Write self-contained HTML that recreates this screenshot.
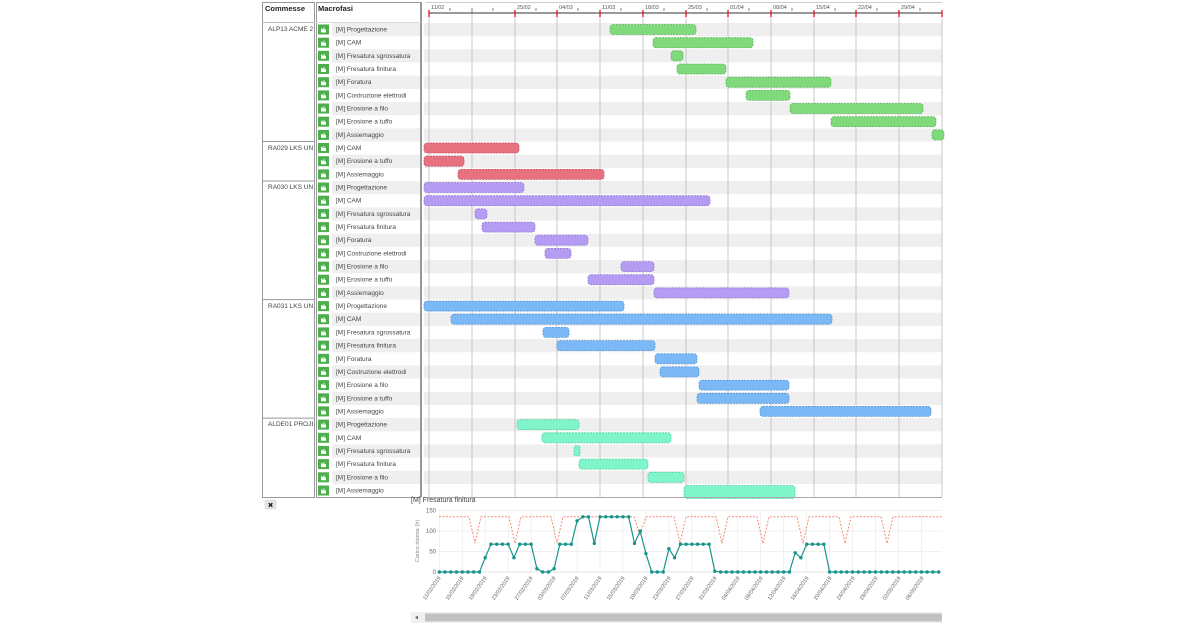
<!DOCTYPE html>
<html><head><meta charset="utf-8"><style>
html,body{margin:0;padding:0;background:#fff;}
svg{display:block;font-family:"Liberation Sans",sans-serif;}
.lb{font-size:6.5px;fill:#444;}
.bar{stroke-dasharray:2 1;stroke-width:0.8;}
</style></head><body>
<svg width="1200" height="624" viewBox="0 0 1200 624">
<defs>
<clipPath id="cc"><rect x="263" y="0" width="50" height="500"/></clipPath>
<marker id="dot" markerWidth="4" markerHeight="4" refX="2" refY="2" markerUnits="userSpaceOnUse"><circle cx="2" cy="2" r="1.7" fill="#17948a"/></marker>
<g id="ic"><rect x="318" y="1.5" width="11" height="10" fill="#4cae4c"/><path d="M321 9.5h5v-3h-1.5v-2h-1v2h-1v-1h-1.5z" fill="#fff"/></g>
</defs>

<!-- column boxes -->
<rect x="262.5" y="2.5" width="52" height="495" fill="#fff" stroke="#999"/>
<rect x="316.5" y="2.5" width="104" height="495" fill="#fff" stroke="#999"/>
<line x1="262" y1="22.5" x2="315" y2="22.5" stroke="#bbb"/>
<line x1="316" y1="22.5" x2="421" y2="22.5" stroke="#ddd"/>
<text x="265" y="11" font-size="7.5" font-weight="bold" fill="#222">Commesse</text>
<text x="318" y="11" font-size="7.5" font-weight="bold" fill="#222">Macrofasi</text>
<line x1="421.5" y1="2" x2="421.5" y2="497" stroke="#999"/>

<!-- stripes -->
<g fill="#efefef">
<rect x="332" y="23" width="88" height="13.2"/><rect x="424" y="23" width="518" height="13.2"/>
<rect x="332" y="49.3" width="88" height="13.2"/><rect x="424" y="49.3" width="518" height="13.2"/>
<rect x="332" y="75.7" width="88" height="13.2"/><rect x="424" y="75.7" width="518" height="13.2"/>
<rect x="332" y="102" width="88" height="13.2"/><rect x="424" y="102" width="518" height="13.2"/>
<rect x="332" y="128.4" width="88" height="13.2"/><rect x="424" y="128.4" width="518" height="13.2"/>
<rect x="332" y="154.7" width="88" height="13.2"/><rect x="424" y="154.7" width="518" height="13.2"/>
<rect x="332" y="181" width="88" height="13.2"/><rect x="424" y="181" width="518" height="13.2"/>
<rect x="332" y="207.4" width="88" height="13.2"/><rect x="424" y="207.4" width="518" height="13.2"/>
<rect x="332" y="233.7" width="88" height="13.2"/><rect x="424" y="233.7" width="518" height="13.2"/>
<rect x="332" y="260.1" width="88" height="13.2"/><rect x="424" y="260.1" width="518" height="13.2"/>
<rect x="332" y="286.4" width="88" height="13.2"/><rect x="424" y="286.4" width="518" height="13.2"/>
<rect x="332" y="312.7" width="88" height="13.2"/><rect x="424" y="312.7" width="518" height="13.2"/>
<rect x="332" y="339.1" width="88" height="13.2"/><rect x="424" y="339.1" width="518" height="13.2"/>
<rect x="332" y="365.4" width="88" height="13.2"/><rect x="424" y="365.4" width="518" height="13.2"/>
<rect x="332" y="391.8" width="88" height="13.2"/><rect x="424" y="391.8" width="518" height="13.2"/>
<rect x="332" y="418.1" width="88" height="13.2"/><rect x="424" y="418.1" width="518" height="13.2"/>
<rect x="332" y="444.4" width="88" height="13.2"/><rect x="424" y="444.4" width="518" height="13.2"/>
<rect x="332" y="470.8" width="88" height="13.2"/><rect x="424" y="470.8" width="518" height="13.2"/>
</g>

<!-- group separators -->
<g stroke="#999">
<line x1="262" y1="141.5" x2="315" y2="141.5"/>
<line x1="262" y1="181" x2="315" y2="181"/>
<line x1="262" y1="299.6" x2="315" y2="299.6"/>
<line x1="262" y1="418.1" x2="315" y2="418.1"/>
</g>
<g clip-path="url(#cc)" font-size="6.5" fill="#444">
<text x="268" y="31">ALP13 ACME 2019</text>
<text x="268" y="150">RA029 LKS UNT</text>
<text x="268" y="189">RA030 LKS UNT</text>
<text x="268" y="308">RA031 LKS UNT</text>
<text x="268" y="426">ALDE01 PROJECT</text>
</g>

<!-- week grid -->
<g stroke="#bbb" stroke-width="0.8">
<line x1="429" y1="13" x2="429" y2="497"/><line x1="472" y1="13" x2="472" y2="497"/>
<line x1="515" y1="13" x2="515" y2="497"/><line x1="557" y1="13" x2="557" y2="497"/>
<line x1="600" y1="13" x2="600" y2="497"/><line x1="643" y1="13" x2="643" y2="497"/>
<line x1="686" y1="13" x2="686" y2="497"/><line x1="728" y1="13" x2="728" y2="497"/>
<line x1="771" y1="13" x2="771" y2="497"/><line x1="814" y1="13" x2="814" y2="497"/>
<line x1="856" y1="13" x2="856" y2="497"/><line x1="899" y1="13" x2="899" y2="497"/>
<line x1="942" y1="13" x2="942" y2="497"/>
</g>
<!-- header axis -->
<line x1="426" y1="2.5" x2="942" y2="2.5" stroke="#ccc"/>
<line x1="429" y1="13" x2="942" y2="13" stroke="#333" stroke-width="1"/>
<g stroke="#333" stroke-width="0.6">
<line x1="450" y1="8" x2="450" y2="11"/><line x1="472" y1="8" x2="472" y2="13"/><line x1="493" y1="8" x2="493" y2="11"/>
<line x1="536" y1="8" x2="536" y2="11"/><line x1="578" y1="8" x2="578" y2="11"/><line x1="621" y1="8" x2="621" y2="11"/>
<line x1="664" y1="8" x2="664" y2="11"/><line x1="707" y1="8" x2="707" y2="11"/><line x1="749" y1="8" x2="749" y2="11"/>
<line x1="792" y1="8" x2="792" y2="11"/><line x1="835" y1="8" x2="835" y2="11"/><line x1="877" y1="8" x2="877" y2="11"/><line x1="920" y1="8" x2="920" y2="11"/>
</g>
<g stroke="#e00" stroke-width="1.2">
<line x1="429" y1="10" x2="429" y2="17"/><line x1="515" y1="10" x2="515" y2="17"/><line x1="557" y1="10" x2="557" y2="17"/>
<line x1="600" y1="10" x2="600" y2="17"/><line x1="643" y1="10" x2="643" y2="17"/><line x1="686" y1="10" x2="686" y2="17"/>
<line x1="728" y1="10" x2="728" y2="17"/><line x1="771" y1="10" x2="771" y2="17"/><line x1="814" y1="10" x2="814" y2="17"/>
<line x1="856" y1="10" x2="856" y2="17"/><line x1="899" y1="10" x2="899" y2="17"/><line x1="942" y1="10" x2="942" y2="17"/>
</g>
<g font-size="5.5" fill="#555">
<text x="431" y="9">11/02</text><text x="517" y="9">25/02</text><text x="559" y="9">04/03</text>
<text x="602" y="9">11/03</text><text x="645" y="9">18/03</text><text x="688" y="9">25/03</text>
<text x="730" y="9">01/04</text><text x="773" y="9">08/04</text><text x="816" y="9">15/04</text>
<text x="858" y="9">22/04</text><text x="901" y="9">29/04</text>
</g>

<!-- rows -->
<g>
<g transform="translate(0,23)"><use href="#ic"/><text class="lb" x="336" y="8.5">[M] Progettazione</text><rect class="bar" x="610" y="1.5" width="86" height="10" rx="3" fill="#80d97a" stroke="#5cb85c"/></g>
<g transform="translate(0,36.2)"><use href="#ic"/><text class="lb" x="336" y="8.5">[M] CAM</text><rect class="bar" x="653" y="1.5" width="100" height="10" rx="3" fill="#80d97a" stroke="#5cb85c"/></g>
<g transform="translate(0,49.3)"><use href="#ic"/><text class="lb" x="336" y="8.5">[M] Fresatura sgrossatura</text><rect class="bar" x="671" y="1.5" width="12" height="10" rx="3" fill="#80d97a" stroke="#5cb85c"/></g>
<g transform="translate(0,62.5)"><use href="#ic"/><text class="lb" x="336" y="8.5">[M] Fresatura finitura</text><rect class="bar" x="677" y="1.5" width="49" height="10" rx="3" fill="#80d97a" stroke="#5cb85c"/></g>
<g transform="translate(0,75.7)"><use href="#ic"/><text class="lb" x="336" y="8.5">[M] Foratura</text><rect class="bar" x="726" y="1.5" width="105" height="10" rx="3" fill="#80d97a" stroke="#5cb85c"/></g>
<g transform="translate(0,88.9)"><use href="#ic"/><text class="lb" x="336" y="8.5">[M] Costruzione elettrodi</text><rect class="bar" x="746" y="1.5" width="44" height="10" rx="3" fill="#80d97a" stroke="#5cb85c"/></g>
<g transform="translate(0,102)"><use href="#ic"/><text class="lb" x="336" y="8.5">[M] Erosione a filo</text><rect class="bar" x="790" y="1.5" width="133" height="10" rx="3" fill="#80d97a" stroke="#5cb85c"/></g>
<g transform="translate(0,115.2)"><use href="#ic"/><text class="lb" x="336" y="8.5">[M] Erosione a tuffo</text><rect class="bar" x="831" y="1.5" width="105" height="10" rx="3" fill="#80d97a" stroke="#5cb85c"/></g>
<g transform="translate(0,128.4)"><use href="#ic"/><text class="lb" x="336" y="8.5">[M] Assiemaggio</text><rect class="bar" x="932" y="1.5" width="12" height="10" rx="3" fill="#80d97a" stroke="#5cb85c"/></g>

<g transform="translate(0,141.5)"><use href="#ic"/><text class="lb" x="336" y="8.5">[M] CAM</text><rect class="bar" x="424" y="1.5" width="95" height="10" rx="3" fill="#e8717f" stroke="#c9505f"/></g>
<g transform="translate(0,154.7)"><use href="#ic"/><text class="lb" x="336" y="8.5">[M] Erosione a tuffo</text><rect class="bar" x="424" y="1.5" width="40" height="10" rx="3" fill="#e8717f" stroke="#c9505f"/></g>
<g transform="translate(0,167.9)"><use href="#ic"/><text class="lb" x="336" y="8.5">[M] Assiemaggio</text><rect class="bar" x="458" y="1.5" width="146" height="10" rx="3" fill="#e8717f" stroke="#c9505f"/></g>

<g transform="translate(0,181)"><use href="#ic"/><text class="lb" x="336" y="8.5">[M] Progettazione</text><rect class="bar" x="424" y="1.5" width="100" height="10" rx="3" fill="#b59cf3" stroke="#9479d8"/></g>
<g transform="translate(0,194.2)"><use href="#ic"/><text class="lb" x="336" y="8.5">[M] CAM</text><rect class="bar" x="424" y="1.5" width="286" height="10" rx="3" fill="#b59cf3" stroke="#9479d8"/></g>
<g transform="translate(0,207.4)"><use href="#ic"/><text class="lb" x="336" y="8.5">[M] Fresatura sgrossatura</text><rect class="bar" x="475" y="1.5" width="12" height="10" rx="3" fill="#b59cf3" stroke="#9479d8"/></g>
<g transform="translate(0,220.6)"><use href="#ic"/><text class="lb" x="336" y="8.5">[M] Fresatura finitura</text><rect class="bar" x="482" y="1.5" width="53" height="10" rx="3" fill="#b59cf3" stroke="#9479d8"/></g>
<g transform="translate(0,233.7)"><use href="#ic"/><text class="lb" x="336" y="8.5">[M] Foratura</text><rect class="bar" x="535" y="1.5" width="53" height="10" rx="3" fill="#b59cf3" stroke="#9479d8"/></g>
<g transform="translate(0,246.9)"><use href="#ic"/><text class="lb" x="336" y="8.5">[M] Costruzione elettrodi</text><rect class="bar" x="545" y="1.5" width="26" height="10" rx="3" fill="#b59cf3" stroke="#9479d8"/></g>
<g transform="translate(0,260.1)"><use href="#ic"/><text class="lb" x="336" y="8.5">[M] Erosione a filo</text><rect class="bar" x="621" y="1.5" width="33" height="10" rx="3" fill="#b59cf3" stroke="#9479d8"/></g>
<g transform="translate(0,273.2)"><use href="#ic"/><text class="lb" x="336" y="8.5">[M] Erosione a tuffo</text><rect class="bar" x="588" y="1.5" width="66" height="10" rx="3" fill="#b59cf3" stroke="#9479d8"/></g>
<g transform="translate(0,286.4)"><use href="#ic"/><text class="lb" x="336" y="8.5">[M] Assiemaggio</text><rect class="bar" x="654" y="1.5" width="135" height="10" rx="3" fill="#b59cf3" stroke="#9479d8"/></g>

<g transform="translate(0,299.6)"><use href="#ic"/><text class="lb" x="336" y="8.5">[M] Progettazione</text><rect class="bar" x="424" y="1.5" width="200" height="10" rx="3" fill="#7bb9f6" stroke="#5596d6"/></g>
<g transform="translate(0,312.7)"><use href="#ic"/><text class="lb" x="336" y="8.5">[M] CAM</text><rect class="bar" x="451" y="1.5" width="381" height="10" rx="3" fill="#7bb9f6" stroke="#5596d6"/></g>
<g transform="translate(0,325.9)"><use href="#ic"/><text class="lb" x="336" y="8.5">[M] Fresatura sgrossatura</text><rect class="bar" x="543" y="1.5" width="26" height="10" rx="3" fill="#7bb9f6" stroke="#5596d6"/></g>
<g transform="translate(0,339.1)"><use href="#ic"/><text class="lb" x="336" y="8.5">[M] Fresatura finitura</text><rect class="bar" x="557" y="1.5" width="98" height="10" rx="3" fill="#7bb9f6" stroke="#5596d6"/></g>
<g transform="translate(0,352.3)"><use href="#ic"/><text class="lb" x="336" y="8.5">[M] Foratura</text><rect class="bar" x="655" y="1.5" width="42" height="10" rx="3" fill="#7bb9f6" stroke="#5596d6"/></g>
<g transform="translate(0,365.4)"><use href="#ic"/><text class="lb" x="336" y="8.5">[M] Costruzione elettrodi</text><rect class="bar" x="660" y="1.5" width="39" height="10" rx="3" fill="#7bb9f6" stroke="#5596d6"/></g>
<g transform="translate(0,378.6)"><use href="#ic"/><text class="lb" x="336" y="8.5">[M] Erosione a filo</text><rect class="bar" x="699" y="1.5" width="90" height="10" rx="3" fill="#7bb9f6" stroke="#5596d6"/></g>
<g transform="translate(0,391.8)"><use href="#ic"/><text class="lb" x="336" y="8.5">[M] Erosione a tuffo</text><rect class="bar" x="697" y="1.5" width="92" height="10" rx="3" fill="#7bb9f6" stroke="#5596d6"/></g>
<g transform="translate(0,404.9)"><use href="#ic"/><text class="lb" x="336" y="8.5">[M] Assiemaggio</text><rect class="bar" x="760" y="1.5" width="171" height="10" rx="3" fill="#7bb9f6" stroke="#5596d6"/></g>

<g transform="translate(0,418.1)"><use href="#ic"/><text class="lb" x="336" y="8.5">[M] Progettazione</text><rect class="bar" x="517" y="1.5" width="62" height="10" rx="3" fill="#80f5c9" stroke="#4fd3a3"/></g>
<g transform="translate(0,431.3)"><use href="#ic"/><text class="lb" x="336" y="8.5">[M] CAM</text><rect class="bar" x="542" y="1.5" width="129" height="10" rx="3" fill="#80f5c9" stroke="#4fd3a3"/></g>
<g transform="translate(0,444.4)"><use href="#ic"/><text class="lb" x="336" y="8.5">[M] Fresatura sgrossatura</text><rect class="bar" x="574" y="1.5" width="6" height="10" rx="2" fill="#80f5c9" stroke="#4fd3a3"/></g>
<g transform="translate(0,457.6)"><use href="#ic"/><text class="lb" x="336" y="8.5">[M] Fresatura finitura</text><rect class="bar" x="579" y="1.5" width="69" height="10" rx="3" fill="#80f5c9" stroke="#4fd3a3"/></g>
<g transform="translate(0,470.8)"><use href="#ic"/><text class="lb" x="336" y="8.5">[M] Erosione a filo</text><rect class="bar" x="648" y="1.5" width="36" height="10" rx="3" fill="#80f5c9" stroke="#4fd3a3"/></g>
<g transform="translate(0,484)"><use href="#ic"/><text class="lb" x="336" y="8.5">[M] Assiemaggio</text><rect class="bar" x="684" y="1.5" width="111" height="13" rx="3" fill="#80f5c9" stroke="#4fd3a3"/></g>
</g>
<line x1="424" y1="497.5" x2="942" y2="497.5" stroke="#aaa"/>

<!-- close button -->
<rect x="265" y="500" width="11" height="9" rx="1" fill="#e6e6e6" stroke="#ccc" stroke-width="0.5"/>
<text x="270.5" y="507.5" font-size="7" text-anchor="middle" fill="#222">✖</text>

<!-- bottom chart -->
<text x="411" y="502" font-size="7" fill="#444">[M] Fresatura finitura</text>
<g stroke="#e8e8e8" stroke-width="0.6">
<line x1="439" y1="510.7" x2="942" y2="510.7"/><line x1="439" y1="531.1" x2="942" y2="531.1"/><line x1="439" y1="551.6" x2="942" y2="551.6"/>
<line x1="439.3" y1="510" x2="439.3" y2="572"/><line x1="462.3" y1="510" x2="462.3" y2="572"/><line x1="485.2" y1="510" x2="485.2" y2="572"/>
<line x1="508.2" y1="510" x2="508.2" y2="572"/><line x1="531.1" y1="510" x2="531.1" y2="572"/><line x1="554.1" y1="510" x2="554.1" y2="572"/>
<line x1="577.1" y1="510" x2="577.1" y2="572"/><line x1="600" y1="510" x2="600" y2="572"/><line x1="623" y1="510" x2="623" y2="572"/>
<line x1="645.9" y1="510" x2="645.9" y2="572"/><line x1="668.9" y1="510" x2="668.9" y2="572"/><line x1="691.9" y1="510" x2="691.9" y2="572"/>
<line x1="714.8" y1="510" x2="714.8" y2="572"/><line x1="737.8" y1="510" x2="737.8" y2="572"/><line x1="760.7" y1="510" x2="760.7" y2="572"/>
<line x1="783.7" y1="510" x2="783.7" y2="572"/><line x1="806.7" y1="510" x2="806.7" y2="572"/><line x1="829.6" y1="510" x2="829.6" y2="572"/>
<line x1="852.6" y1="510" x2="852.6" y2="572"/><line x1="875.5" y1="510" x2="875.5" y2="572"/><line x1="898.5" y1="510" x2="898.5" y2="572"/><line x1="921.5" y1="510" x2="921.5" y2="572"/>
</g>
<line x1="439" y1="572" x2="942" y2="572" stroke="#ccc" stroke-width="0.6"/>
<g font-size="6" fill="#666" text-anchor="end">
<text x="436" y="512.5">150</text><text x="436" y="533">100</text><text x="436" y="553.5">50</text><text x="436" y="574">0</text>
</g>
<text transform="translate(419,541) rotate(-90)" font-size="5.5" fill="#888" text-anchor="middle">Carico risorse (h)</text>

<polyline fill="none" stroke="#f58a74" stroke-width="1" stroke-dasharray="2 1.5" points="439,516.8 469,516.8 475,543.4 481,516.8 509,516.8 515,543.4 521,516.8 551,516.8 557,543.4 563,516.8 634,516.8 640,535 646,516.8 674,516.8 680,543.4 686,516.8 716,516.8 722,543.4 728,516.8 757,516.8 763,543.4 769,516.8 797,516.8 803,543.4 809,516.8 839,516.8 845,543.4 851,516.8 881,516.8 887,543.4 893,516.8 942,516.8"/>

<polyline fill="none" stroke="#17948a" stroke-width="1.2" marker-start="url(#dot)" marker-mid="url(#dot)" marker-end="url(#dot)" points="439.3,572 445,572 450.8,572 456.5,572 462.3,572 468,572 473.7,572 479.5,572 485.2,557.7 491,544.2 496.7,544.2 502.4,544.2 508.2,544.2 513.9,557.7 519.7,544.2 525.4,544.2 531.1,544.2 536.9,568.7 542.6,572 548.4,572 554.1,568.7 559.8,544.2 565.6,544.2 571.3,544.2 577.1,520.9 582.8,516.8 588.5,516.8 594.3,543.4 600,516.8 605.8,516.8 611.5,516.8 617.2,516.8 623,516.8 628.7,516.8 634.5,543.4 640.2,531.1 645.9,553.6 651.7,572 657.4,572 663.2,572 668.9,548.7 674.6,557.7 680.4,544.2 686.1,544.2 691.9,544.2 697.6,544.2 703.3,544.2 709.1,544.2 714.8,571.2 720.6,572 726.3,572 732,572 737.8,572 743.5,572 749.3,572 755,572 760.7,572 766.5,572 772.2,572 778,572 783.7,572 789.4,572 795.2,552.8 800.9,557.7 806.7,544.2 812.4,544.2 818.1,544.2 823.9,544.2 829.6,572 835.4,572 841.1,572 846.8,572 852.6,572 858.3,572 864.1,572 869.8,572 875.5,572 881.3,572 887,572 892.8,572 898.5,572 904.2,572 910,572 915.7,572 921.5,572 927.2,572 932.9,572 938.7,572"/>

<g font-size="5.5" fill="#666" text-anchor="end">
<text transform="translate(441,578) rotate(-55)">11/02/2019</text>
<text transform="translate(464,578) rotate(-55)">15/02/2019</text>
<text transform="translate(487,578) rotate(-55)">19/02/2019</text>
<text transform="translate(510,578) rotate(-55)">23/02/2019</text>
<text transform="translate(533,578) rotate(-55)">27/02/2019</text>
<text transform="translate(556,578) rotate(-55)">03/03/2019</text>
<text transform="translate(579,578) rotate(-55)">07/03/2019</text>
<text transform="translate(602,578) rotate(-55)">11/03/2019</text>
<text transform="translate(625,578) rotate(-55)">15/03/2019</text>
<text transform="translate(648,578) rotate(-55)">19/03/2019</text>
<text transform="translate(671,578) rotate(-55)">23/03/2019</text>
<text transform="translate(694,578) rotate(-55)">27/03/2019</text>
<text transform="translate(717,578) rotate(-55)">31/03/2019</text>
<text transform="translate(740,578) rotate(-55)">04/04/2019</text>
<text transform="translate(763,578) rotate(-55)">08/04/2019</text>
<text transform="translate(786,578) rotate(-55)">12/04/2019</text>
<text transform="translate(809,578) rotate(-55)">16/04/2019</text>
<text transform="translate(832,578) rotate(-55)">20/04/2019</text>
<text transform="translate(855,578) rotate(-55)">24/04/2019</text>
<text transform="translate(878,578) rotate(-55)">28/04/2019</text>
<text transform="translate(901,578) rotate(-55)">02/05/2019</text>
<text transform="translate(924,578) rotate(-55)">06/05/2019</text>
</g>

<!-- scrollbar -->
<rect x="411" y="612" width="531" height="11" fill="#f1f1f1"/>
<rect x="425" y="613.5" width="517" height="8" fill="#c1c1c1"/>
<path d="M418 615.5 L415 617.5 L418 619.5 Z" fill="#666"/>
</svg>
</body></html>
